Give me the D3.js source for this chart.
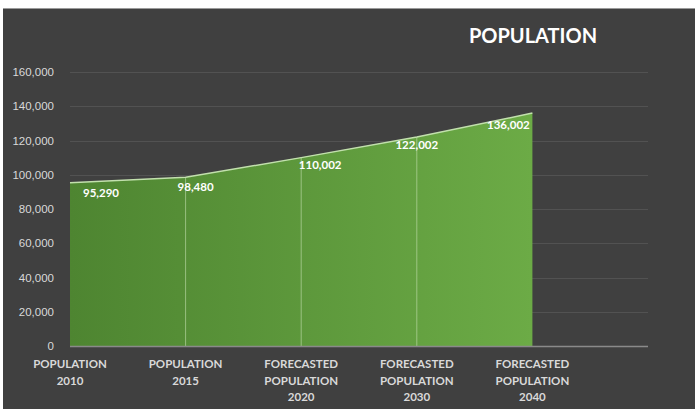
<!DOCTYPE html>
<meta charset="utf-8">
<style>
body { margin: 0; background: #fff; }
svg { display: block; font-family: Lato, "Open Sans", sans-serif; }
.axis text { fill: #d9d9d9; font-size: 11.5px; }
.axis path, .axis line { display: none; }
.grid line { stroke: #525252; stroke-width: 1px; }
.lbl { fill: #fff; font-size: 11.5px; font-weight: bold; }
</style>
<svg width="695" height="409"></svg>
<script src="https://cdn.jsdelivr.net/npm/d3@7"></script>
<script>
var categories = [
  ["POPULATION", "2010"],
  ["POPULATION", "2015"],
  ["FORECASTED", "POPULATION", "2020"],
  ["FORECASTED", "POPULATION", "2030"],
  ["FORECASTED", "POPULATION", "2040"]
];
var values = [95290, 98480, 110002, 122002, 136002];
var yTicks = [0, 20000, 40000, 60000, 80000, 100000, 120000, 140000, 160000];
// how far each value label sits from its point (dx, dy)
var labelNudge = [[31, 14], [10, 14], [19, 11], [0, 12], [-24, 16]];

var svg = d3.select("svg"),
    margin = {top: 72, right: 47, bottom: 63, left: 70},
    width = +svg.attr("width") - margin.left - margin.right,
    height = +svg.attr("height") - margin.top - margin.bottom;

// dark panel, white edge left and top like the screenshot
svg.append("rect")
  .attr("x", 3).attr("y", 8)
  .attr("width", 692).attr("height", 401)
  .attr("fill", "#404040");
svg.append("line")
  .attr("x1", 3).attr("x2", 695).attr("y1", 8.5).attr("y2", 8.5)
  .attr("stroke", "#9a9a9a");

var defs = svg.append("defs");
var grad = defs.append("linearGradient").attr("id", "areaGrad")
  .attr("x1", "0%").attr("x2", "100%").attr("y1", "0%").attr("y2", "0%");
grad.append("stop").attr("offset", "0%").attr("stop-color", "#4e8531");
grad.append("stop").attr("offset", "100%").attr("stop-color", "#6cab46");

var g = svg.append("g")
  .attr("transform", "translate(" + margin.left + "," + margin.top + ")");

// 6 slots, the last one is empty
var x = d3.scalePoint().domain(d3.range(categories.length + 1)).range([0, width]);
var y = d3.scaleLinear().domain([0, 160000]).range([height, 0]);

g.append("g").attr("class", "grid")
  .selectAll("line").data(yTicks.slice(1)).enter().append("line")
    .attr("x1", 0).attr("x2", width)
    .attr("y1", function(d) { return Math.round(y(d)) + 0.5; })
    .attr("y2", function(d) { return Math.round(y(d)) + 0.5; });

var yAxis = g.append("g").attr("class", "axis")
  .attr("transform", "translate(-13,0)")
  .call(d3.axisLeft(y).tickValues(yTicks).tickSize(0).tickFormat(d3.format(",")));

var data = values.map(function(v, i) { return {i: i, v: v}; });

var area = d3.area()
  .x(function(d) { return x(d.i); })
  .y0(height)
  .y1(function(d) { return y(d.v); });

g.append("path").datum(data)
  .attr("d", area)
  .attr("fill", "url(#areaGrad)");

// drop lines inside the area
g.selectAll(".drop").data(data.slice(1, -1)).enter().append("line")
  .attr("class", "drop")
  .attr("x1", function(d) { return x(d.i); })
  .attr("x2", function(d) { return x(d.i); })
  .attr("y1", function(d) { return y(d.v); })
  .attr("y2", height)
  .attr("stroke", "#b5d69f").attr("stroke-opacity", 0.7).attr("stroke-width", 1);

g.append("path").datum(data)
  .attr("d", d3.line().x(function(d) { return x(d.i); }).y(function(d) { return y(d.v); }))
  .attr("fill", "none")
  .attr("stroke", "#c2e0ad").attr("stroke-width", 1.5);

// x axis line
g.append("line")
  .attr("x1", 0).attr("x2", width)
  .attr("y1", height + 0.5).attr("y2", height + 0.5)
  .attr("stroke", "#8a8a8a").attr("stroke-width", 1.5);

// category labels
var cat = g.selectAll(".cat").data(categories).enter().append("text")
  .attr("class", "axis")
  .attr("text-anchor", "middle")
  .attr("transform", function(d, i) { return "translate(" + x(i) + "," + (height + 22) + ")"; })
  .style("fill", "#d9d9d9").style("font-size", "11.5px").style("font-weight", "bold");
cat.selectAll("tspan").data(function(d) { return d; }).enter().append("tspan")
  .attr("x", 0)
  .attr("dy", function(d, j) { return j ? 16.5 : 0; })
  .text(function(d) { return d; });

// value labels
g.selectAll(".lbl").data(data).enter().append("text")
  .attr("class", "lbl")
  .attr("text-anchor", "middle")
  .attr("x", function(d) { return x(d.i) + labelNudge[d.i][0]; })
  .attr("y", function(d) { return y(d.v) + labelNudge[d.i][1]; })
  .text(function(d) { return d3.format(",")(d.v); });

svg.append("text")
  .attr("x", 533).attr("y", 43)
  .attr("text-anchor", "middle")
  .attr("fill", "#fff")
  .style("font-size", "20px").style("font-weight", "bold")
  .text("POPULATION");
</script>
